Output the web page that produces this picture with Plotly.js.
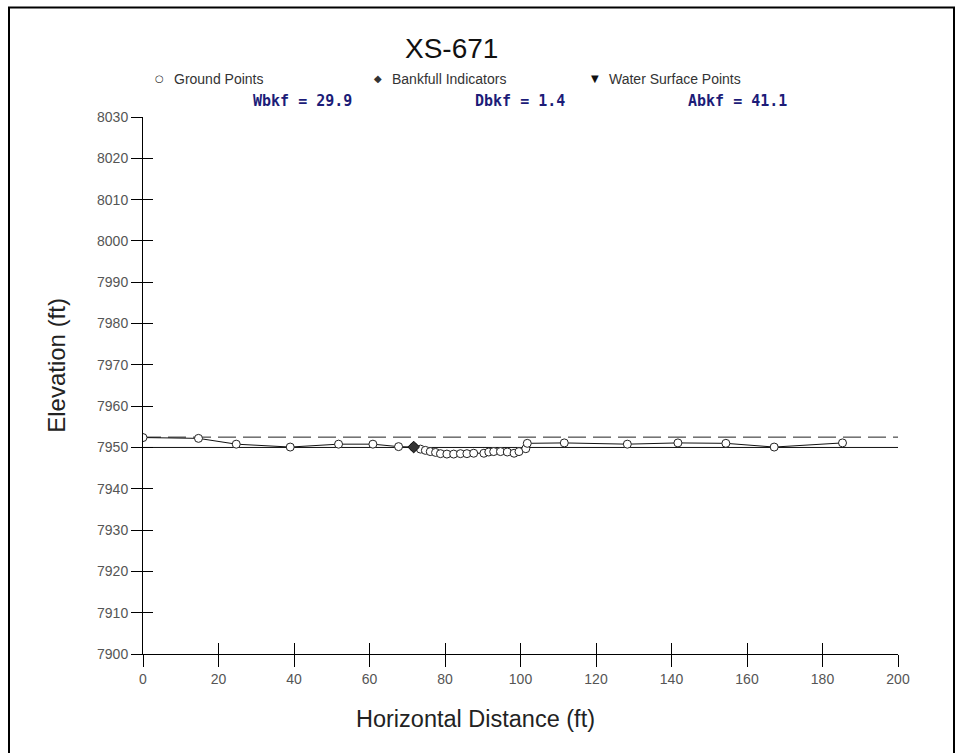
<!DOCTYPE html>
<html>
<head>
<meta charset="utf-8">
<script src="https://cdn.plot.ly/plotly-3.0.1.min.js"></script>
<style>
html,body{margin:0;padding:0;background:#fff;}
#chart{width:962px;height:753px;}
</style>
</head>
<body>
<div id="chart"></div>
<script>
// Ground survey points (horizontal distance ft, elevation ft)
const groundX = [0, 14.7, 24.7, 39.0, 51.8, 60.9, 67.7, 71.7, 73.5, 74.8, 76.1, 77.5, 78.8, 80.5, 82.3, 84.1, 85.8, 87.6, 90.3, 91.6, 92.9, 94.7, 96.5, 98.3, 99.6, 101.4, 101.8, 111.6, 128.3, 141.7, 154.4, 167.2, 185.3];
const groundY = [7952.4, 7952.2, 7950.8, 7950.1, 7950.8, 7950.8, 7950.2, 7950.1, 7949.6, 7949.3, 7949.0, 7948.8, 7948.5, 7948.4, 7948.4, 7948.5, 7948.5, 7948.6, 7948.6, 7948.9, 7949.0, 7949.0, 7948.9, 7948.6, 7949.0, 7949.7, 7951.0, 7951.1, 7950.8, 7951.1, 7951.0, 7950.1, 7951.1];
// Bankfull indicator
const bankfullX = [71.7];
const bankfullY = [7950.1];
// Horizontal reference lines
const lineX = [0, 200];
const solidLineElev = 7950.0;
const dashedLineElev = 7952.5;
// Axis ticks
const xTicks = [0, 20, 40, 60, 80, 100, 120, 140, 160, 180, 200];
const yTicks = [7900, 7910, 7920, 7930, 7940, 7950, 7960, 7970, 7980, 7990, 8000, 8010, 8020, 8030];
// Texts
const chartTitle = "XS-671";
const legendLabels = ["Ground Points", "Bankfull Indicators", "Water Surface Points"];
const statLabels = ["Wbkf = 29.9", "Dbkf = 1.4", "Abkf = 41.1"];
const xTitle = "Horizontal Distance (ft)";
const yTitle = "Elevation (ft)";

const traces = [
  {x: lineX, y: lineX.map(() => solidLineElev), mode: 'lines', line: {color: '#111', width: 1}, hoverinfo: 'skip', showlegend: false},
  {x: lineX, y: lineX.map(() => dashedLineElev), mode: 'lines', line: {color: '#222', width: 1, dash: '18px,7px'}, hoverinfo: 'skip', showlegend: false},
  {x: groundX, y: groundY, mode: 'lines+markers', line: {color: '#111', width: 1},
   marker: {symbol: 'circle', size: 8, color: '#fff', line: {color: '#222', width: 1}}, showlegend: false},
  {x: bankfullX, y: bankfullY, mode: 'markers', marker: {symbol: 'diamond', size: 9, color: '#333', line: {color: '#111', width: 1}}, showlegend: false}
];

const tickFont = {family: 'Liberation Sans, Arial, sans-serif', size: 14, color: '#555'};
const axBase = {showgrid: false, zeroline: false, showline: true, linecolor: '#000', linewidth: 1,
  ticks: 'outside', ticklen: 11, tickwidth: 1, tickcolor: '#000', tickfont: tickFont, fixedrange: true};

const px = v => (v - 143) / 755;
const py = v => (654 - v) / 537.5;

const annotations = [
  {text: chartTitle, x: px(451.5), y: py(48), font: {family: 'Liberation Sans, Arial', size: 28, color: '#111'}, xanchor: 'center', yanchor: 'middle'},
  {text: '○', x: px(159.5), y: py(78), font: {family: 'DejaVu Sans', size: 10, color: '#222'}, xanchor: 'center', yanchor: 'middle'},
  {text: legendLabels[0], x: px(172), y: py(78), font: {family: 'Liberation Sans, Arial', size: 14, color: '#333'}, xanchor: 'left', yanchor: 'middle'},
  {text: '◆', x: px(378), y: py(78), font: {family: 'DejaVu Sans', size: 10, color: '#333'}, xanchor: 'center', yanchor: 'middle'},
  {text: legendLabels[1], x: px(389.5), y: py(78), font: {family: 'Liberation Sans, Arial', size: 14, color: '#333'}, xanchor: 'left', yanchor: 'middle'},
  {text: '▼', x: px(595), y: py(78), font: {family: 'DejaVu Sans', size: 10, color: '#111'}, xanchor: 'center', yanchor: 'middle'},
  {text: legendLabels[2], x: px(606.5), y: py(78), font: {family: 'Liberation Sans, Arial', size: 14, color: '#333'}, xanchor: 'left', yanchor: 'middle'},
  {text: '<b>' + statLabels[0] + '</b>', x: px(302), y: py(100), font: {family: 'DejaVu Sans Mono, monospace', size: 15, color: '#1c1c78'}, xanchor: 'center', yanchor: 'middle'},
  {text: '<b>' + statLabels[1] + '</b>', x: px(520), y: py(100), font: {family: 'DejaVu Sans Mono, monospace', size: 15, color: '#1c1c78'}, xanchor: 'center', yanchor: 'middle'},
  {text: '<b>' + statLabels[2] + '</b>', x: px(737), y: py(100), font: {family: 'DejaVu Sans Mono, monospace', size: 15, color: '#1c1c78'}, xanchor: 'center', yanchor: 'middle'},
  {text: yTitle, x: px(57), y: py(365.5), textangle: -90, font: {family: 'Liberation Sans, Arial', size: 24, color: '#222'}, xanchor: 'center', yanchor: 'middle'},
  {text: xTitle, x: px(475), y: py(719.5), font: {family: 'Liberation Sans, Arial', size: 23.5, color: '#222'}, xanchor: 'center', yanchor: 'middle'}
].map(a => Object.assign({xref: 'paper', yref: 'paper', showarrow: false}, a));

const layout = {
  width: 962, height: 753,
  margin: {l: 143, r: 64, t: 117, b: 99, pad: 0},
  paper_bgcolor: '#fff', plot_bgcolor: '#fff',
  showlegend: false,
  xaxis: Object.assign({}, axBase, {range: [0, 200], tickvals: xTicks, ticktext: xTicks.map(String), ticklen: 12}),
  yaxis: Object.assign({}, axBase, {range: [7900, 8030], tickvals: yTicks, ticktext: yTicks.map(String)}),
  xaxis2: {overlaying: 'x', anchor: 'y', side: 'bottom', range: [0, 200], tickvals: xTicks, ticks: 'inside', ticklen: 11,
    tickcolor: '#000', showticklabels: false, showgrid: false, zeroline: false, showline: false, fixedrange: true},
  yaxis2: {overlaying: 'y', anchor: 'x', side: 'left', range: [7900, 8030], tickvals: yTicks, ticks: 'inside', ticklen: 10,
    tickcolor: '#000', showticklabels: false, showgrid: false, zeroline: false, showline: false, fixedrange: true},
  annotations: annotations,
  shapes: [
    {type: 'rect', xref: 'paper', yref: 'paper', x0: px(9), x1: px(954), y0: py(760), y1: py(7), line: {color: '#000', width: 2}, fillcolor: 'rgba(0,0,0,0)', layer: 'above'}
  ]
};

traces.push({x: [], y: [], xaxis: 'x2', yaxis: 'y2', mode: 'markers', showlegend: false, hoverinfo: 'skip'});

Plotly.newPlot('chart', traces, layout, {displayModeBar: false, staticPlot: true});
</script>
</body>
</html>
